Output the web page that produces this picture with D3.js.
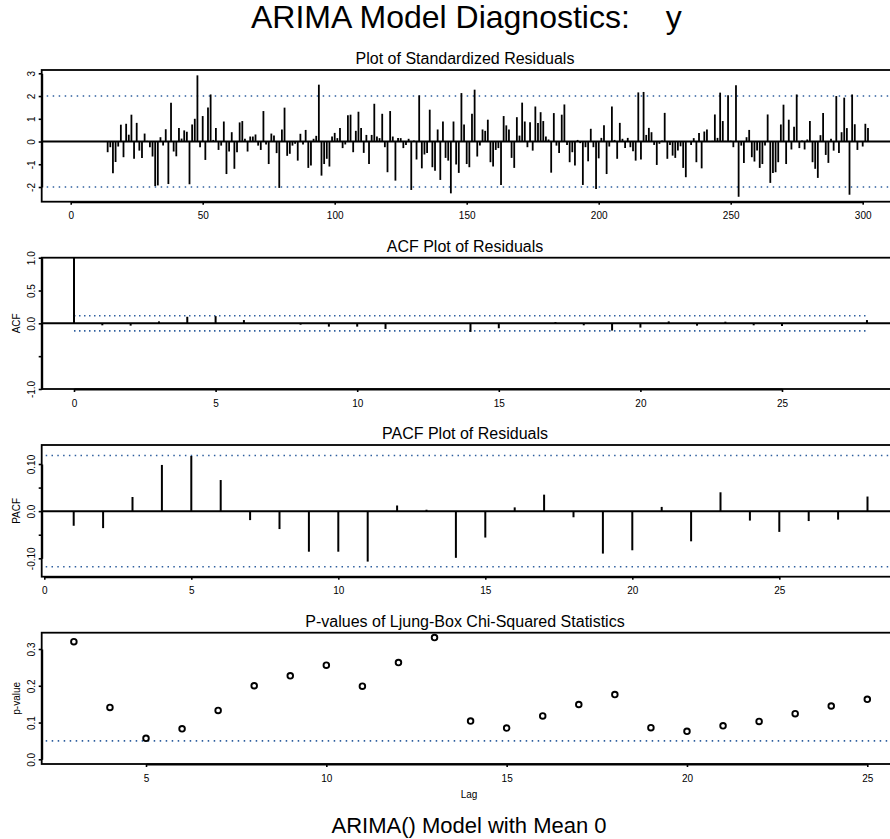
<!DOCTYPE html>
<html>
<head>
<meta charset="utf-8">
<script src="https://cdn.jsdelivr.net/npm/d3@7"></script>
<style>
  body { margin: 0; background: #fff; }
  svg text { font-family: "Liberation Sans", Arial, Helvetica, sans-serif; fill: #000; }
</style>
</head>
<body>
<svg width="890" height="839"></svg>
<script>

// ---- data ----
let residStart = 14; // first plotted time index
let residuals = [
  -0.47,-0.25,-1.4,-0.9,-0.22,0.74,-0.69,0.78,0.3,1.18,
  -0.76,0.82,-0.4,-0.72,0.35,0.03,-0.25,-0.66,-1.96,-1.93,
  0.19,-0.18,0.54,-1.87,1.71,-0.44,-0.65,0.6,0.13,0.49,
  0.43,-1.88,0.75,1.0,2.91,-0.25,1.12,-0.81,1.5,2.07,
  0.07,0.59,-0.37,-0.18,0.88,-1.43,-0.44,0.41,-1.2,-0.47,
  0.84,0.9,0.12,-0.44,0.22,0.22,0.31,-0.18,-0.37,1.34,
  -0.13,-0.99,0.35,0.26,-0.51,-2.04,0.53,1.49,-0.63,-0.54,
  -0.18,-0.1,-0.84,
  0.34,-0.13,0.51,-1.16,-1.06,0.12,0.25,2.5,-1.5,-0.99,
  -0.76,-1.1,0.22,0.38,0.15,0.59,-0.29,-0.13,1.15,1.18,
  -0.47,0.47,1.31,0.6,-0.5,0.29,-0.99,0.29,1.66,0.22,
  0.15,1.22,-0.25,-1.35,1.34,0.22,-1.72,0.15,0.15,-0.29,
  -0.15,0.12,-2.13,0.04,-0.79,2.03,-1.18,-0.57,-0.51,1.4,
  -1.13,-1.28,0.53,-1.69,0.88,-0.72,-0.84,-2.28,0.88,-1.01,
  -1.38,2.13,0.75,-0.99,-1.13,1.22,2.28,-0.66,-0.18,0.53,
  0.47,0.96,-0.91,-1.1,-0.37,-0.29,-1.91,1.12,0.71,0.53,
  -0.72,-1.16,1.07,0.26,1.71,0.88,-0.25,0.85,-0.4,1.54,
  0.81,1.29,0.9,0.22,0.09,-1.37,1.25,-0.18,-0.51,1.18,
  1.63,-0.15,-0.91,-0.47,-1.06,0.07,-0.07,-1.91,
  -0.25,-0.87,0.56,-0.25,-2.09,-0.74,0.16,0.72,-1.43,-0.22,
  1.54,0.07,-0.76,0.82,0.12,-0.29,0.16,-0.25,-0.43,-0.84,
  2.16,-0.79,2.18,0.29,0.6,0.41,-0.15,-1.03,-0.1,0.04,
  1.26,-0.76,-0.15,-0.62,-0.72,-0.4,-0.21,-1.16,-1.57,0.02,
  -0.15,0.15,-0.91,0.38,-1.18,0.44,0.53,0.02,0.03,1.19,
  0.16,2.15,0.9,0.03,2.03,0.04,-0.25,2.47,-2.43,-0.18,
  -0.94,0.19,0.51,-0.69,-0.88,-0.4,-1.16,-0.99,-0.18,1.19,
  -1.82,-1.38,-1.35,-0.91,0.75,1.62,-0.99,0.96,-0.35,0.65,
  2.07,-0.29,0.04,-0.35,0.09,0.9,-0.91,-1.2,-1.6,0.28,
  1.25,-0.59,-0.94,0.12,-0.4,2.0,-0.51,0.41,1.93,0.59,
  -2.34,2.07,0.76,-0.37,0.02,-0.22,0.78,0.6
];
let residLimits = [-2, 2];

let acfValues = [ // lag 0..28
  1.0,-0.03,-0.035,0.03,0.1,0.11,0.05,-0.01,-0.02,-0.05,
  -0.05,-0.085,0.004,-0.01,-0.13,-0.075,0.005,0.02,-0.03,-0.11,
  -0.065,0.03,-0.035,0.025,-0.03,-0.04,-0.005,-0.003,0.05
];
let acfBand = [0.115, -0.115];
let acfBandLags = [0, 28];

let pacfValues = [ // lag 1..28
  -0.031,-0.036,0.030,0.098,0.117,0.066,-0.019,-0.038,-0.086,-0.086,
  -0.107,0.012,0.003,-0.099,-0.056,0.008,0.035,-0.013,-0.090,-0.083,
  0.009,-0.064,0.040,-0.020,-0.044,-0.021,-0.018,0.031
];
let pacfBand = [0.118, -0.118];

let ljungLags = [3,4,5,6,7,8,9,10,11,12,13,14,15,16,17,18,19,20,21,22,23,24,25];
let ljungP = [0.32,0.141,0.057,0.083,0.133,0.2,0.227,0.256,0.199,0.263,0.331,
  0.104,0.085,0.118,0.149,0.176,0.086,0.076,0.091,0.103,0.124,0.145,0.163];
let ljungLevel = 0.05;

let residXTicks = [0, 50, 100, 150, 200, 250, 300];
let residYTicks = [-2, -1, 0, 1, 2, 3];
let residYLabels = ["-2", "-1", "0", "1", "2", "3"];
let lagTicks = [0, 5, 10, 15, 20, 25];
let acfYTicks = [-1, -0.5, 0, 0.5, 1];
let acfYLabels = ["-1.0", "", "0.0", "0.5", "1.0"];
let pacfYTicks = [-0.1, -0.05, 0, 0.05, 0.1];
let pacfYLabels = ["-0.10", "", "0.0", "", "0.10"];
let ljungXTicks = [5, 10, 15, 20, 25];
let ljungYTicks = [0, 0.1, 0.2, 0.3];
let ljungYLabels = ["0.0", "0.1", "0.2", "0.3"];

// ---- layout ----
let svg = d3.select("svg");
let left = 41.7, right = 891, midX = 465;
let dotColor = "#2f5f9e";

svg.append("rect").attr("width", 890).attr("height", 839).attr("fill", "#fff");

function panel(top, bottom, x, y, xTicks, yTicks, yLabels, title, ylab) {
  let g = svg.append("g");

  let xa = g.append("g")
    .attr("transform", "translate(0," + bottom + ")")
    .call(d3.axisBottom(x).tickValues(xTicks).tickSize(3).tickSizeOuter(0).tickFormat(d => String(d)));
  let ya = g.append("g")
    .attr("transform", "translate(" + left + ",0)")
    .call(d3.axisLeft(y).tickValues(yTicks).tickSize(3).tickSizeOuter(0).tickFormat((d, i) => yLabels[i]));

  [xa, ya].forEach(a => {
    a.attr("font-family", null).attr("font-size", 10);
    a.select(".domain").attr("stroke", "#000").attr("stroke-width", 2);
    a.selectAll(".tick line").attr("stroke", "#000").attr("stroke-width", 1.6);
  });
  xa.selectAll(".tick text").attr("y", 17.5).attr("dy", null);
  ya.selectAll(".tick text")
    .attr("x", 0).attr("dy", null)
    .attr("text-anchor", "middle")
    .attr("transform", "translate(-6.5,0) rotate(-90)");

  g.append("rect")
    .attr("x", left).attr("y", top)
    .attr("width", right - left).attr("height", bottom - top)
    .attr("fill", "none").attr("stroke", "#000").attr("stroke-width", 1.8);

  g.append("text")
    .attr("x", midX).attr("y", top - 6)
    .attr("text-anchor", "middle")
    .attr("font-size", 16)
    .text(title);

  if (ylab) {
    g.append("text")
      .attr("text-anchor", "middle")
      .attr("font-size", 10)
      .attr("transform", "translate(20," + (top + bottom) / 2 + ") rotate(-90)")
      .text(ylab);
  }
  return g;
}

function dotted(g, x1, x2, yv, period) {
  g.append("line")
    .attr("x1", x1).attr("x2", x2)
    .attr("y1", yv).attr("y2", yv)
    .attr("stroke", dotColor)
    .attr("stroke-width", 1.6)
    .attr("stroke-dasharray", "1.5," + (period - 1.5));
}

function zeroLine(g, yv) {
  g.append("line")
    .attr("x1", left).attr("x2", right)
    .attr("y1", yv).attr("y2", yv)
    .attr("stroke", "#000").attr("stroke-width", 2);
}

// ---- 1: standardized residuals ----
let rx = d3.scaleLinear().domain([0, 300]).range([70.7, 862.7]);
let ry = d3.scaleLinear().domain([-2, 3]).range([187, 73.3]);
let g1 = panel(70, 201.7, rx, ry, residXTicks, residYTicks, residYLabels, "Plot of Standardized Residuals", null);
residLimits.forEach(v => dotted(g1, left + 5, right, ry(v), 6));
g1.append("g").selectAll("line")
  .data(residuals)
  .join("line")
  .attr("x1", (d, i) => rx(residStart + i))
  .attr("x2", (d, i) => rx(residStart + i))
  .attr("y1", ry(0))
  .attr("y2", d => ry(d))
  .attr("stroke", "#000")
  .attr("stroke-width", 1.8);
zeroLine(g1, ry(0));

// ---- 2: ACF ----
let ax = d3.scaleLinear().domain([0, 25]).range([74, 782]);
let ay = d3.scaleLinear().domain([-1, 1]).range([389, 257.7]);
let g2 = panel(257.7, 389, ax, ay, lagTicks, acfYTicks, acfYLabels, "ACF Plot of Residuals", "ACF");
acfBand.forEach(v => dotted(g2, ax(acfBandLags[0]), ax(acfBandLags[1]), ay(v), 5));
g2.append("g").selectAll("line")
  .data(acfValues)
  .join("line")
  .attr("x1", (d, i) => ax(i))
  .attr("x2", (d, i) => ax(i))
  .attr("y1", ay(0))
  .attr("y2", d => ay(d))
  .attr("stroke", "#000")
  .attr("stroke-width", 2);
zeroLine(g2, ay(0));

// ---- 3: PACF ----
let px = d3.scaleLinear().domain([0, 25]).range([44.3, 779.3]);
let py = d3.scaleLinear().domain([-0.1, 0.1]).range([558.3, 464]);
let g3 = panel(445, 576.7, px, py, lagTicks, pacfYTicks, pacfYLabels, "PACF Plot of Residuals", "PACF");
pacfBand.forEach(v => dotted(g3, left + 4, right, py(v), 5.8));
g3.append("g").selectAll("line")
  .data(pacfValues)
  .join("line")
  .attr("x1", (d, i) => px(i + 1))
  .attr("x2", (d, i) => px(i + 1))
  .attr("y1", py(0))
  .attr("y2", d => py(d))
  .attr("stroke", "#000")
  .attr("stroke-width", 2);
zeroLine(g3, py(0));

// ---- 4: Ljung-Box p-values ----
let lx = d3.scaleLinear().domain([5, 25]).range([146, 867.3]);
let ly = d3.scaleLinear().domain([0, 0.3]).range([759.3, 649]);
let g4 = panel(632.7, 764, lx, ly, ljungXTicks, ljungYTicks, ljungYLabels, "P-values of Ljung-Box Chi-Squared Statistics", "p-value");
dotted(g4, left + 4, right, ly(ljungLevel), 6);
g4.append("g").selectAll("circle")
  .data(ljungP)
  .join("circle")
  .attr("cx", (d, i) => lx(ljungLags[i]))
  .attr("cy", d => ly(d))
  .attr("r", 2.8)
  .attr("fill", "none")
  .attr("stroke", "#000")
  .attr("stroke-width", 1.9);

g4.append("text")
  .attr("x", 469).attr("y", 798)
  .attr("text-anchor", "middle")
  .attr("font-size", 10)
  .text("Lag");

// ---- titles ----
let mainTitle = svg.append("text")
  .attr("x", 251).attr("y", 28)
  .attr("font-size", 32);
mainTitle.append("tspan").text("ARIMA Model Diagnostics:");
mainTitle.append("tspan").attr("dx", 36).text("y");

svg.append("text")
  .attr("x", 469).attr("y", 833)
  .attr("text-anchor", "middle")
  .attr("font-size", 22)
  .text("ARIMA() Model with Mean 0");

</script>
</body>
</html>
